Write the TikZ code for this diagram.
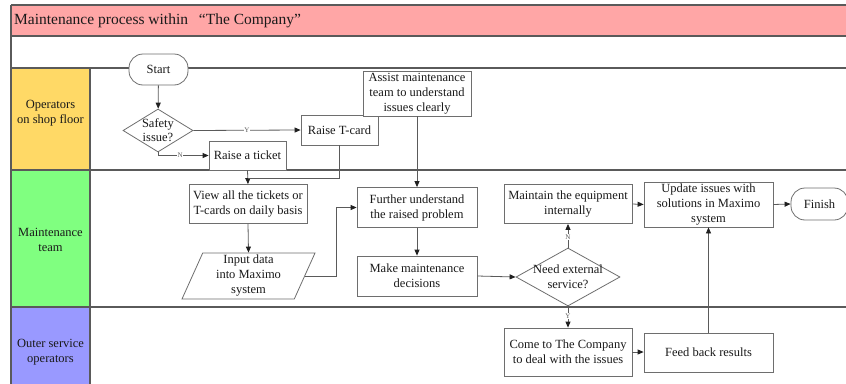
\documentclass[tikz,border=0pt]{standalone}
\usepackage{fontspec}
\setmainfont{Liberation Serif}
\newfontfamily\tnr{Liberation Serif}
\usetikzlibrary{arrows.meta,shapes.geometric,calc}
\definecolor{titlepink}{HTML}{FFA6A6}
\definecolor{laneyellow}{HTML}{FFD966}
\definecolor{lanegreen}{HTML}{80FF80}
\definecolor{laneblue}{HTML}{9999FF}
\definecolor{lanegray}{HTML}{5A5A5A}
\definecolor{boxgray}{HTML}{6E6E6E}
\definecolor{tipcol}{HTML}{202020}
\definecolor{txt}{HTML}{1A1A1A}
\tikzset{
  lane/.style={draw=lanegray, line width=1.1pt},
  box/.style={draw=boxgray, line width=0.8pt, fill=white, rectangle, inner sep=1pt,
    align=center, font=\tnr\fontsize{12.5}{15}\selectfont, text=txt},
  term/.style={box, rounded corners=14pt},
  decision/.style={draw=boxgray, line width=0.8pt, fill=white, diamond, inner sep=0pt},
  io/.style={box, trapezium, trapezium left angle=63.4, trapezium right angle=116.6, trapezium stretches body},
  arr/.style={draw=lanegray, line width=0.8pt, -{Triangle[length=6pt,width=5pt,color=tipcol]}},
  conn/.style={draw=lanegray, line width=0.8pt},
  yn/.style={font=\tnr\fontsize{7}{8}\selectfont, fill=white, inner sep=0.6pt, text=lanegray},
  lanelabel/.style={align=center, font=\tnr\fontsize{12.5}{15}\selectfont, text=txt}
}
\begin{document}
\begin{tikzpicture}[x=1pt,y=-1pt]
\useasboundingbox (0,0) rectangle (846,383);
% backgrounds
\fill[titlepink] (11,5) rectangle (850,36);
\fill[laneyellow] (11,68) rectangle (90,170);
\fill[lanegreen] (11,170) rectangle (90,307);
\fill[laneblue] (11,307) rectangle (90,390);
% lines
\draw[lane] (11,5) -- (850,5);
\draw[lane] (11,36) -- (850,36);
\draw[lane] (11,68) -- (850,68);
\draw[lane] (11,170) -- (850,170);
\draw[lane] (11,307) -- (850,307);
\draw[lane] (11,5) -- (11,390);
\draw[lane] (90,68) -- (90,390);
% title and lane labels
\node[anchor=west, font=\tnr\fontsize{15.5}{17}\selectfont, text=txt, inner sep=0pt] (title) at (14,21) {Maintenance process within\hspace{0.7em}“The Company”};
\node[lanelabel] (l1) at (50.5,113.5) {Operators\\on shop floor};
\node[lanelabel] (l2) at (50.5,240) {Maintenance\\team};
\node[lanelabel] (l3) at (50.5,352) {Outer service\\operators};
% nodes
\node[term, minimum width=59pt, minimum height=31pt] (start) at (158.5,69.5) {Start};
\node[decision, minimum width=70pt, minimum height=43pt,
  label={[align=center, font=\tnr\fontsize{12.5}{14}\selectfont, text=txt]center:Safety\\issue?}] (safety) at (158,130.5) {};
\node[box, minimum width=77pt, minimum height=30pt] (tcard) at (339.5,130) {Raise T-card};
\node[box, minimum width=77pt, minimum height=29pt] (ticket) at (247.5,155.5) {Raise a ticket};
\node[box, minimum width=108pt, minimum height=45pt] (assist) at (417,93.5) {Assist maintenance\\team to understand\\issues clearly};
\node[box, minimum width=118pt, minimum height=39pt] (view) at (248,204) {View all the tickets or\\T-cards on daily basis};
\node[io, minimum width=133pt, minimum height=46pt, inner sep=0pt] (input) at (248.5,276) {Input data\\into Maximo\\system};
\node[box, minimum width=120pt, minimum height=40pt] (further) at (417,207.5) {Further understand\\the raised problem};
\node[box, minimum width=120pt, minimum height=40pt] (make) at (417,276) {Make maintenance\\decisions};
\node[decision, minimum width=104pt, minimum height=58pt,
  label={[align=center, font=\tnr\fontsize{12.5}{15}\selectfont, text=txt]center:Need external\\service?}] (need) at (568,277) {};
\node[box, minimum width=128pt, minimum height=39pt] (maintain) at (568,204) {Maintain the equipment\\internally};
\node[box, minimum width=129pt, minimum height=45pt] (update) at (708.5,204.5) {Update issues with\\solutions in Maximo\\system};
\node[term, minimum width=57pt, minimum height=32pt] (finish) at (819.5,204) {Finish};
\node[box, minimum width=128pt, minimum height=48pt] (come) at (568,352) {Come to The Company\\to deal with the issues};
\node[box, minimum width=129pt, minimum height=39pt] (feed) at (708.5,352.5) {Feed back results};
% connectors
\draw[arr] (start) -- (safety);
\draw[arr] (safety.east) -- node[yn, pos=0.5] {Y} (tcard.west);
\draw[arr] (safety.south) |- node[yn, pos=0.72] {N} (ticket.west);
\coordinate (join) at (247.5,178);
\draw[arr] (ticket.south) -- (view.north);
\draw[conn] (tcard.south) |- (join);
\draw[arr] (assist.south) -- (further.north);
\draw[arr] (view.south) -- (input.north);
\draw[arr] (input.east) -- ++(31,0) |- (further.west);
\draw[arr] (further.south) -- (make.north);
\draw[arr] (make.east) -- (need.west);
\draw[arr] (need.north) -- node[yn, pos=0.45] {N} (maintain.south);
\draw[arr] (need.south) -- node[yn, pos=0.45] {Y} (come.north);
\draw[arr] (maintain.east) -- (update.west);
\draw[arr] (update.east) -- (finish.west);
\draw[arr] (come.east) -- (feed.west |- come.east);
\draw[arr] (feed.north) -- (update.south);
\end{tikzpicture}
\end{document}
